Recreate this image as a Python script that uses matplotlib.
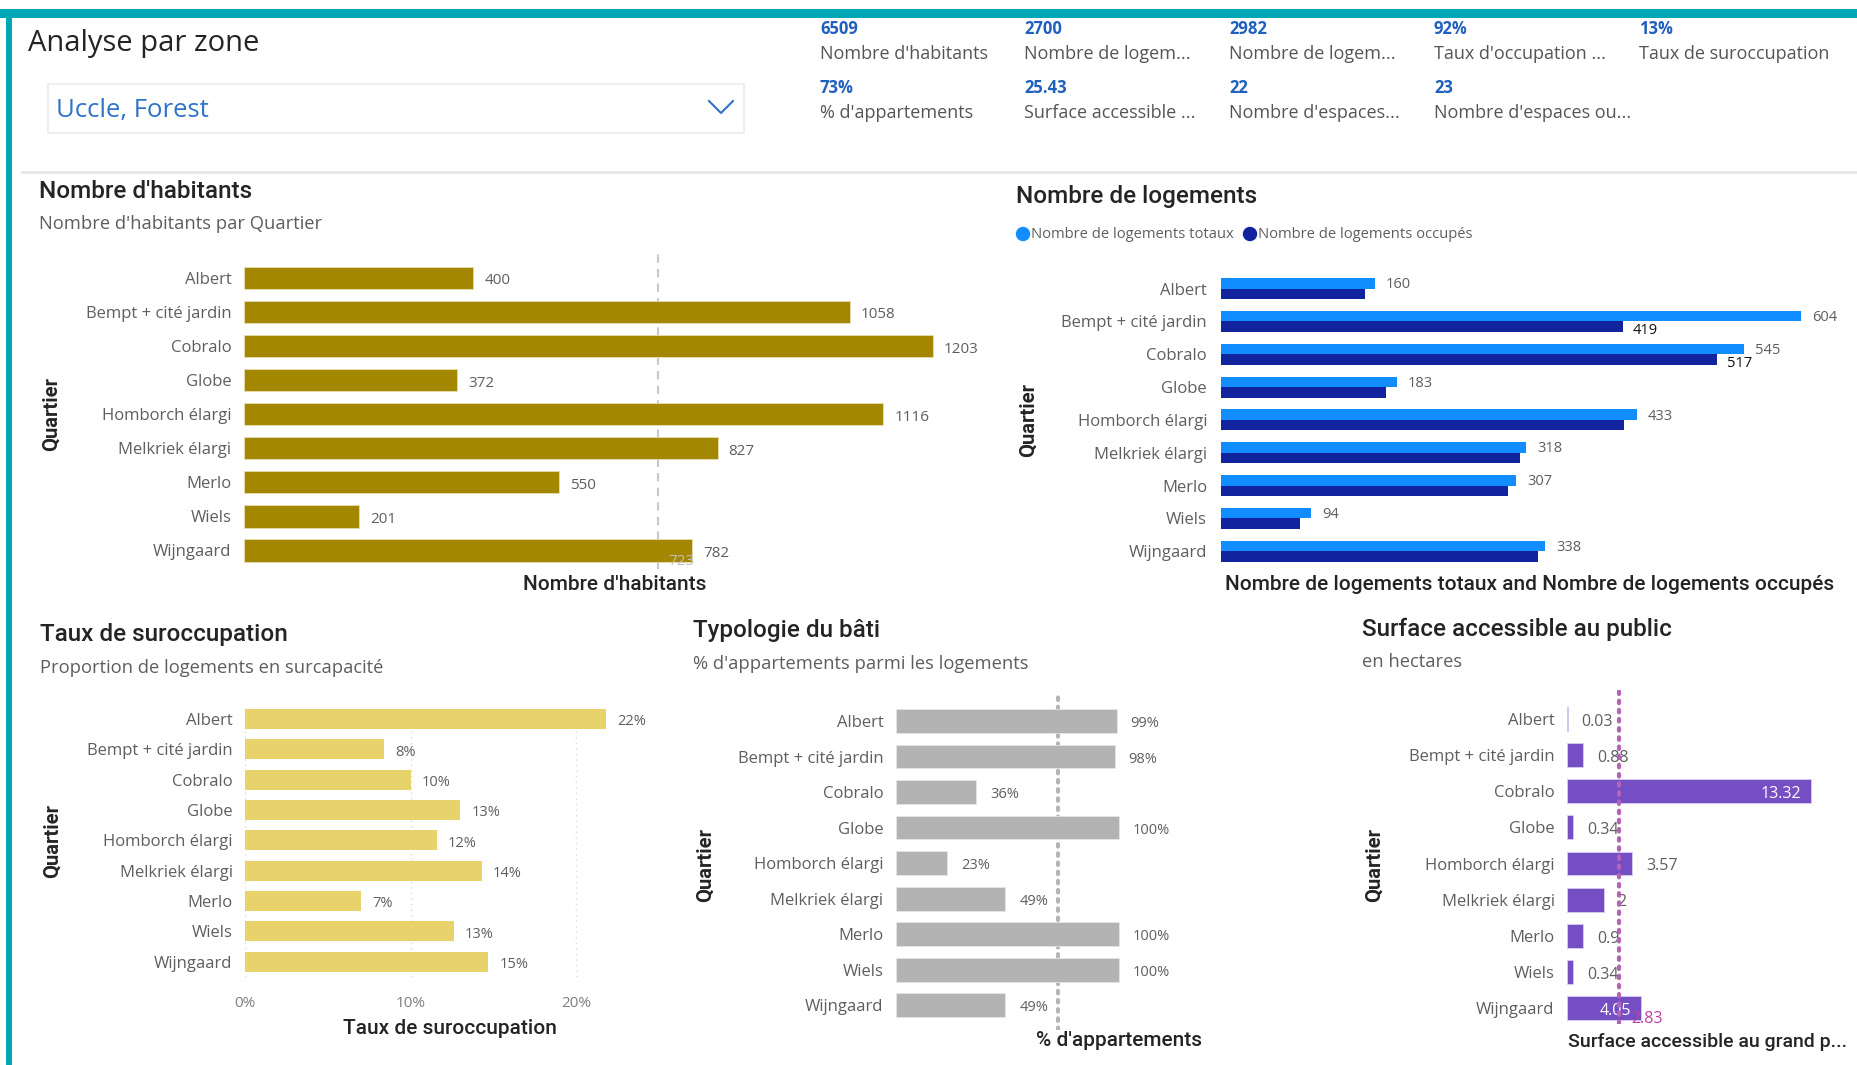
import numpy as np
import matplotlib.pyplot as plt
from matplotlib.patches import Rectangle, Circle

W, H = 1857, 1065

quartiers = ["Albert", "Bempt + cité jardin", "Cobralo", "Globe", "Homborch élargi",
             "Melkriek élargi", "Merlo", "Wiels", "Wijngaard"]
habitants = [400, 1058, 1203, 372, 1116, 827, 550, 201, 782]
logements_totaux = [160, 604, 545, 183, 433, 318, 307, 94, 338]
logements_occupes = [150, 419, 517, 172, 420, 311, 299, 82, 330]
occupes_labels_visibles = ["Bempt + cité jardin", "Cobralo"]
suroccupation = [0.218, 0.084, 0.100, 0.130, 0.116, 0.143, 0.070, 0.126, 0.147]
appartements = [0.99, 0.98, 0.36, 1.00, 0.23, 0.49, 1.00, 1.00, 0.49]
surface = [0.03, 0.88, 13.32, 0.34, 3.57, 2, 0.9, 0.34, 4.05]
surface_labels_dedans = ["Cobralo", "Wijngaard"]

kpi_values = ["6509", "2700", "2982", "92%", "13%", "73%", "25.43", "22", "23"]
kpi_labels = ["Nombre d'habitants", "Nombre de logem...", "Nombre de logem...",
              "Taux d'occupation ...", "Taux de suroccupation", "% d'appartements",
              "Surface accessible ...", "Nombre d'espaces...", "Nombre d'espaces ou..."]

BODY = "Open Sans"
HEAD = "Roboto"
DARK = "#252423"
GREY = "#605E5C"

plt.rcParams['font.family'] = [BODY, 'DejaVu Sans']

fig = plt.figure(figsize=(W / 100, H / 100), dpi=100)
fig.patch.set_facecolor("white")

# calque en pixels pour le cadre, le slicer et la legende
ov = fig.add_axes([0, 0, 1, 1], zorder=5)
ov.set_xlim(0, W)
ov.set_ylim(H, 0)
ov.axis("off")


def px_axes(left, top, right, bottom):
    return fig.add_axes([left / W, 1 - bottom / H, (right - left) / W, (bottom - top) / H])


def ftext(x, y, s, **kw):
    return fig.text(x / W, 1 - y / H, s, **kw)


def prect(x, y, w, h, **kw):
    ov.add_patch(Rectangle((x, y), w, h, **kw))


# cadre
prect(0, 9, W, 9, color="#00A7B5", lw=0)
prect(6, 9, 6, H - 9, color="#00A7B5", lw=0)
prect(21, 171, W - 21, 3, color="#E8E8E8", lw=0)

# en-tete
ftext(28, 44, "Analyse par zone", fontsize=21, color=DARK, va="center")
prect(47.5, 83.5, 696, 49, facecolor="white", edgecolor="#EBEBEB", lw=1.2)
ov.text(56, 111, "Uccle, Forest", fontsize=18.5, color="#2F72C9", va="center")
ov.plot([709, 721, 733], [101, 113, 101], color="#2F72C9", lw=1.5)

kpi_x = [820, 1024, 1229, 1434, 1639]
for i, (v, lab) in enumerate(zip(kpi_values, kpi_labels)):
    row, col = divmod(i, 5)
    y0 = 29 + row * 59
    ftext(kpi_x[col], y0, v, fontsize=12, fontweight="bold", color="#1F5FBF", va="center")
    ftext(kpi_x[col], y0 + 25, lab, fontsize=13, color="#555555", va="center")


def style_axes(ax, top, bottom, pad):
    n = len(quartiers)
    ax.set_ylim(n - 1 + bottom, -top)
    for sp in ax.spines.values():
        sp.set_visible(False)
    ax.set_yticks(range(n))
    ax.set_yticklabels(quartiers, fontsize=12, color=GREY)
    ax.tick_params(axis="y", length=0, pad=pad)
    ax.set_xticks([])
    ax.set_facecolor("none")


def titles(x, y, title, subtitle=None):
    ftext(x, y, title, fontsize=17.5, color=DARK, va="center", family=HEAD, fontweight="medium")
    if subtitle:
        ftext(x, y + 33, subtitle, fontsize=13.2, color=GREY, va="center")


def axis_title(x, y, s, ha="center", size=15):
    ftext(x, y, s, fontsize=size, color=DARK, ha=ha, va="center", family=HEAD,
          fontweight="medium")


def quartier_label(x, y):
    ftext(x, y, "Quartier", fontsize=14.5, fontweight="bold", color=DARK, rotation=90,
          va="center", ha="center", family=HEAD)


y_pos = np.arange(len(quartiers))

# 1. Nombre d'habitants
titles(39, 191, "Nombre d'habitants", "Nombre d'habitants par Quartier")
quartier_label(51, 414)
ax1 = px_axes(244, 251, 990, 569)
ax1.set_xlim(0, 746 / 0.5727)
style_axes(ax1, 0.8, 0.55, 9)
ax1.barh(y_pos, habitants, height=0.66, color="#A38700", edgecolor="#E9DFB0", lw=0.6)
for y, v in zip(y_pos, habitants):
    ax1.annotate(str(v), (v, y), xytext=(8, -2), textcoords="offset points",
                 va="center", fontsize=11, color=GREY)
moy_hab = np.mean(habitants)
ax1.axvline(moy_hab, color="#C8C8C8", ls=(0, (4, 3)), lw=1.5, zorder=0)
ax1.annotate(f"{moy_hab:.0f}", (moy_hab, 0), xycoords=("data", "axes fraction"),
             xytext=(7, 0), textcoords="offset points",
             fontsize=11, color="#C0C0C0", va="bottom")
axis_title(615, 584, "Nombre d'habitants")

# 2. Nombre de logements
titles(1016, 196, "Nombre de logements")
ov.add_patch(Circle((1023, 234), 6.5, color="#118DFF"))
ov.add_patch(Circle((1250, 234), 6.5, color="#12239E"))
ftext(1031, 234, "Nombre de logements totaux", fontsize=10.6, color=GREY, va="center")
ftext(1258, 234, "Nombre de logements occupés", fontsize=10.6, color=GREY, va="center")
quartier_label(1028, 420)
ax2 = px_axes(1221, 264, 1845, 571)
ax2.set_xlim(0, 624 / 0.960)
style_axes(ax2, 0.75, 0.6, 10)
ax2.barh(y_pos - 0.16, logements_totaux, height=0.32, color="#118DFF")
ax2.barh(y_pos + 0.16, logements_occupes, height=0.32, color="#12239E")
for q, y, t, o in zip(quartiers, y_pos, logements_totaux, logements_occupes):
    ax2.annotate(str(t), (t, y - 0.16), xytext=(8, -1), textcoords="offset points",
                 va="center", fontsize=10.5, color=GREY)
    if q in occupes_labels_visibles:
        ax2.annotate(str(o), (o, y + 0.16), xytext=(7, -3), textcoords="offset points",
                     va="center", fontsize=10.5, color="#111111")
axis_title(1530, 584, "Nombre de logements totaux and Nombre de logements occupés")

# 3. Taux de suroccupation
titles(40, 635, "Taux de suroccupation", "Proportion de logements en surcapacité")
quartier_label(52, 841)
ax3 = px_axes(245, 705, 640, 977)
ax3.set_xlim(0, 395 / 1655)
style_axes(ax3, 0.46, 0.5, 9)
for g in [0, 0.1, 0.2]:
    ax3.axvline(g, color="#D9D9D9", ls=(0, (1, 3)), lw=1, zorder=0)
ax3.barh(y_pos, suroccupation, height=0.66, color="#E8D26B")
for y, v in zip(y_pos, suroccupation):
    ax3.annotate(f"{v:.0%}", (v, y), xytext=(8, -2), textcoords="offset points",
                 va="center", fontsize=10.5, color=GREY)
ax3.set_xticks([0, 0.1, 0.2])
ax3.set_xticklabels(["0%", "10%", "20%"], fontsize=11, color="#7F7F7F")
ax3.tick_params(axis="x", length=0, pad=14)
axis_title(450, 1028, "Taux de suroccupation")

# 4. Typologie du bati
titles(693, 631, "Typologie du bâti", "% d'appartements parmi les logements")
quartier_label(705, 865)
ax4 = px_axes(896, 693, 1180, 1030)
ax4.set_xlim(0, 284 / 223)
style_axes(ax4, 0.79, 0.7, 9)
ax4.barh(y_pos, appartements, height=0.67, color="#B3B3B3", edgecolor="#E6E6E6", lw=0.6)
for y, v in zip(y_pos, appartements):
    ax4.annotate(f"{v:.0%}", (v, y), xytext=(10, -2), textcoords="offset points",
                 va="center", fontsize=10.5, color=GREY)
ax4.axvline(np.mean(appartements), color="#B5B5B5", ls=(0, (0.6, 1.6)), lw=3,
            dash_capstyle="round", zorder=0)
axis_title(1119, 1040, "% d'appartements")

# 5. Surface accessible au public
titles(1362, 629, "Surface accessible au public", "en hectares")
quartier_label(1374, 865)
ax5 = px_axes(1567, 690, 1835, 1024)
ax5.set_xlim(0, 268 / 18.3)
style_axes(ax5, 0.8, 0.44, 9)
ax5.barh(y_pos, surface, height=0.66, color="#744EC2", edgecolor="#D9CDF0", lw=0.6)
for q, y, v in zip(quartiers, y_pos, surface):
    txt = f"{v:g}"
    if q in surface_labels_dedans:
        ax5.annotate(txt, (v, y), xytext=(-7, -2), textcoords="offset points", ha="right",
                     va="center", fontsize=11.5, color="white")
    else:
        ax5.annotate(txt, (v, y), xytext=(10, -2), textcoords="offset points",
                     va="center", fontsize=11.5, color=GREY)
moy_surf = np.mean(surface)
ax5.axvline(moy_surf, color="#B464B8", ls=(0, (0.6, 1.6)), lw=3, dash_capstyle="round",
            zorder=3)
ax5.annotate(f"{moy_surf:.2f}", (moy_surf, 0), xycoords=("data", "axes fraction"),
             xytext=(9, -2), textcoords="offset points", fontsize=11.5, color="#C23E9E",
             va="bottom", zorder=5)
axis_title(1568, 1042, "Surface accessible au grand p...", ha="left", size=14)

fig.savefig("out.png", dpi=100)
